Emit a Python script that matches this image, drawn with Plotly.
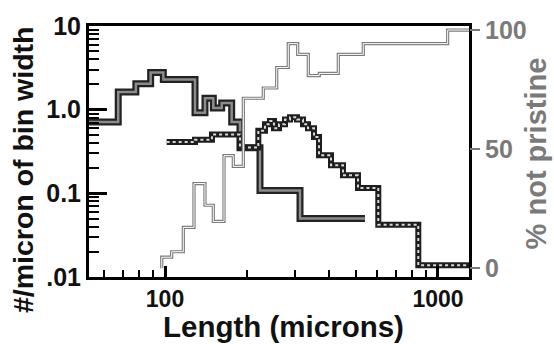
import plotly.graph_objects as go

# Series 1: solid double line (bin left edges, values in #/micron)
s1_x = [52.7, 67.4, 78.2, 88.6, 98.6, 128.8, 140.1, 150.3, 161.3, 175.5, 188.2, 222.8, 312.3, 540]
s1_y = [0.71, 1.63, 2.04, 2.79, 2.29, 0.92, 1.37, 1.05, 1.20, 0.71, 0.35, 0.108, 0.05, 0.05]

# Series 2: dotted double line
s2_x = [101.4, 128.8, 148.6, 188.2, 219.7, 232.4, 242.4, 250.7, 261.6, 275.2, 287.1, 304.5,
        320.3, 334.1, 351.4, 366.6, 405.6, 448.7, 509.3, 604.4, 847, 1299]
s2_y = [0.41, 0.436, 0.505, 0.352, 0.56, 0.67, 0.731, 0.601, 0.67, 0.765, 0.814, 0.765,
        0.67, 0.60, 0.472, 0.286, 0.217, 0.164, 0.116, 0.0421, 0.0138, 0.0138]

# Series 3: % not pristine (right axis)
s3_x = [97.3, 97.3, 105.8, 116.7, 127.7, 140.1, 150.3, 164.5, 177.9, 193.6, 229.1, 256.6,
        282.9, 306.3, 334.9, 367.5, 431.3, 532.5, 1085, 1299]
s3_y = [0, 4.6, 6.9, 17.1, 35.5, 26.4, 19.6, 47.2, 42.7, 71.3, 75.6, 84.2,
        94.2, 89.7, 80.8, 81.7, 89.7, 94.2, 99.9, 99.9]

x_tickvals = [100, 1000]
x_ticktext = ["100", "1000"]
x_minor = [60, 70, 80, 90, 200, 300, 400, 500, 600, 700, 800, 900]
y_tickvals = [0.01, 0.1, 1, 10]
y_ticktext = [".01", "0.1", "1.0", "10"]
y_minor = [m * d for d in [0.01, 0.1, 1] for m in range(2, 10)]
y2_tickvals = [0, 50, 100]

FONT = "Liberation Sans"
GRAY = "#7a7a7a"

fig = go.Figure()

# series 3 (thin hollow gray)
fig.add_trace(go.Scatter(x=s3_x, y=s3_y, yaxis="y2", mode="lines", line_shape="hv",
                         line=dict(color=GRAY, width=3.2), showlegend=False))
fig.add_trace(go.Scatter(x=s3_x, y=s3_y, yaxis="y2", mode="lines", line_shape="hv",
                         line=dict(color="white", width=1.0), showlegend=False))
# series 1
fig.add_trace(go.Scatter(x=s1_x, y=s1_y, mode="lines", line_shape="hv",
                         line=dict(color="#222222", width=7), showlegend=False))
fig.add_trace(go.Scatter(x=s1_x, y=s1_y, mode="lines", line_shape="hv",
                         line=dict(color="#8c8c8c", width=2.5), showlegend=False))
# series 2
fig.add_trace(go.Scatter(x=s2_x, y=s2_y, mode="lines", line_shape="hv",
                         line=dict(color="#1e1e1e", width=6), showlegend=False))
fig.add_trace(go.Scatter(x=s2_x, y=s2_y, mode="lines", line_shape="hv",
                         line=dict(color="#d8d8d8", width=2, dash="dot"), showlegend=False))

fig.update_layout(
    width=554, height=344,
    margin=dict(l=89, r=85, t=19, b=67),
    paper_bgcolor="white", plot_bgcolor="white",
    font=dict(family=FONT),
    xaxis=dict(type="log", range=[1.7216, 3.1136], showgrid=False, zeroline=False,
               showline=True, linecolor="black", linewidth=2.5, mirror=True,
               ticks="inside", ticklen=11, tickwidth=2.5, tickcolor="black",
               tickvals=x_tickvals, ticktext=x_ticktext, ticklabelstandoff=0,
               tickfont=dict(size=23, color="#111", family=FONT, weight="bold"),
               minor=dict(tickvals=x_minor, ticks="inside", ticklen=7, tickwidth=2, tickcolor="black")),
    yaxis=dict(type="log", range=[-2, 1], showgrid=False, zeroline=False,
               showline=True, linecolor="black", linewidth=3, mirror=True,
               ticks="inside", ticklen=18, tickwidth=2.5, tickcolor="black",
               tickvals=y_tickvals, ticktext=y_ticktext,
               tickfont=dict(size=25, color="#111", family=FONT, weight="bold"),
               minor=dict(tickvals=y_minor, ticks="inside", ticklen=10, tickwidth=2, tickcolor="black")),
    yaxis2=dict(overlaying="y", side="right", range=[-3.7, 101.6], showgrid=False,
                zeroline=False, showline=False,
                ticks="outside", ticklen=10, tickwidth=2, tickcolor=GRAY,
                tickvals=y2_tickvals,
                tickfont=dict(size=25, color=GRAY, family=FONT, weight="bold")),
    annotations=[
        dict(text="#/micron of bin width", xref="paper", yref="paper", x=-0.1737, y=0.43,
             textangle=-90, showarrow=False, xanchor="center", yanchor="middle",
             font=dict(size=28.5, color="#111", family=FONT, weight="bold")),
        dict(text="% not pristine", xref="paper", yref="paper", x=1.176, y=0.492,
             textangle=-90, showarrow=False, xanchor="center", yanchor="middle",
             font=dict(size=29, color=GRAY, family=FONT, weight="bold")),
        dict(text="Length (microns)", xref="paper", yref="paper", x=0.512, y=-0.196,
             showarrow=False, xanchor="center", yanchor="middle",
             font=dict(size=29.5, color="#111", family=FONT, weight="bold")),
    ],
)

fig.write_html("out.html")
